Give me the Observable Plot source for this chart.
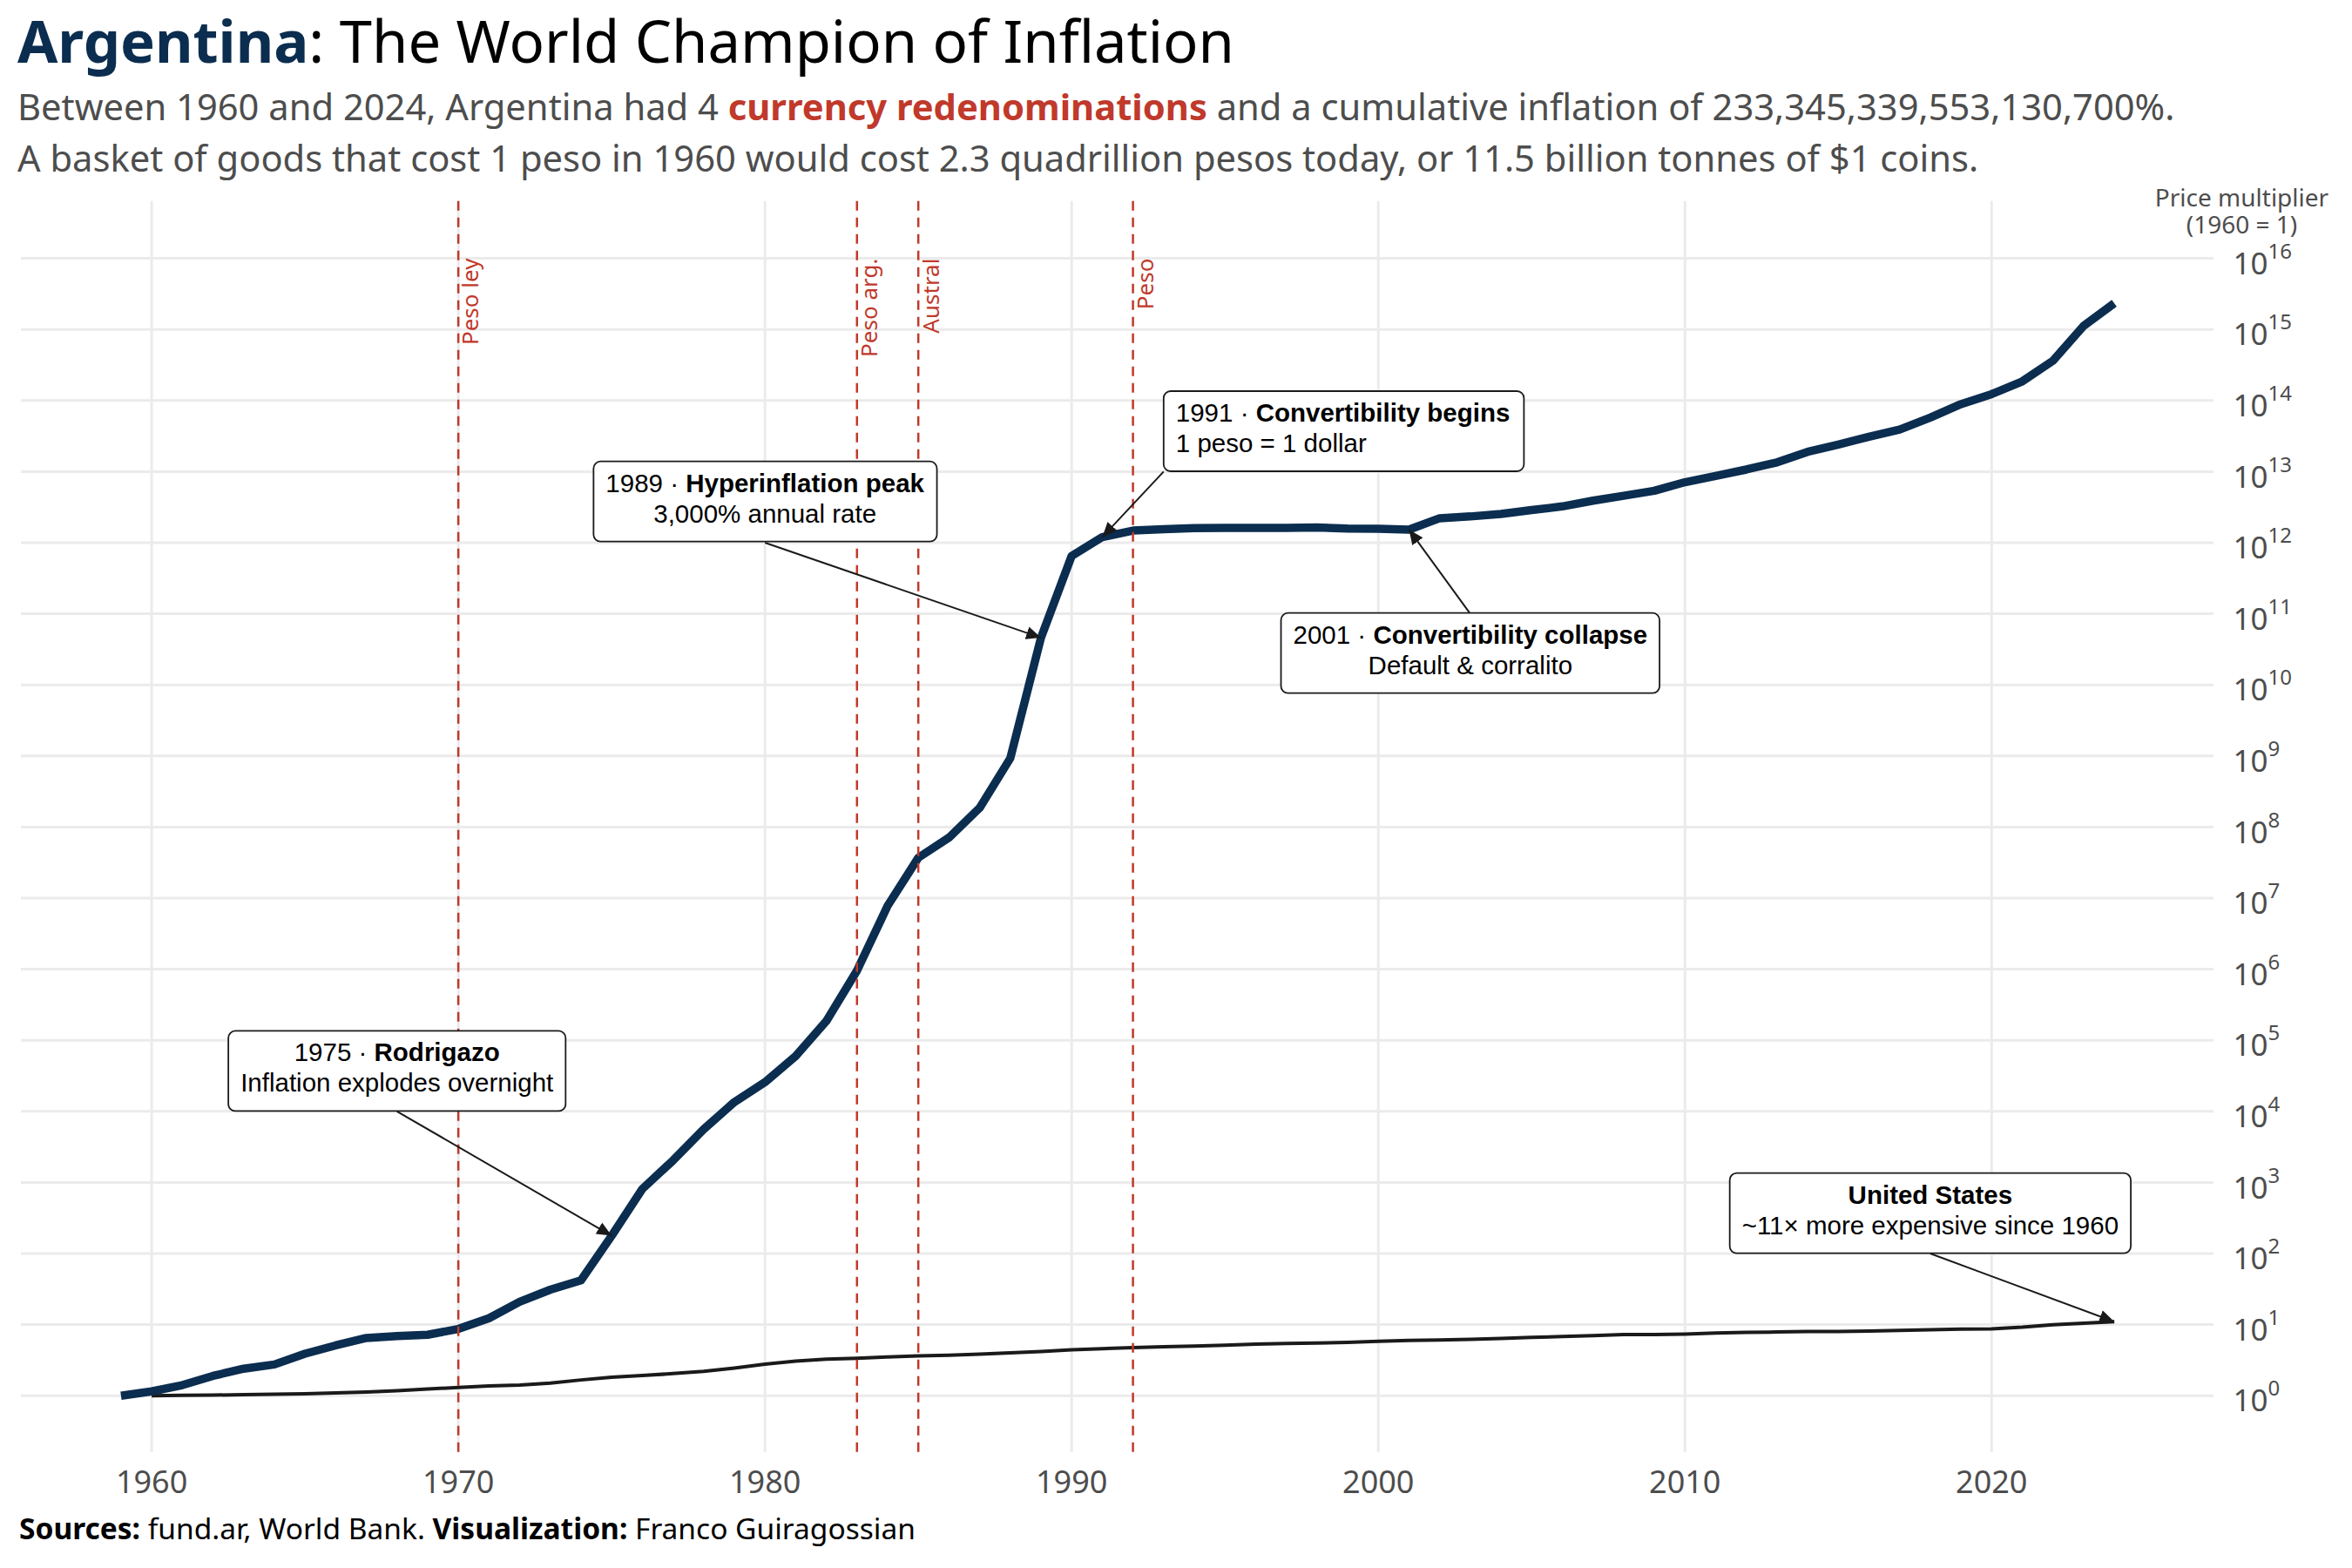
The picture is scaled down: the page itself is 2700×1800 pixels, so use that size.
<!DOCTYPE html>
<html>
<head>
<meta charset="utf-8">
<script src="https://cdn.jsdelivr.net/npm/d3@7"></script>
<script src="https://cdn.jsdelivr.net/npm/@observablehq/plot@0.6"></script>
<style>
  html, body { margin: 0; padding: 0; background: #fff; }
  #wrap { position: relative; width: 2700px; height: 1800px; overflow: hidden; font-family: "Noto Sans", sans-serif; }
  .title { position: absolute; left: 20px; top: 13px; font-size: 67px; line-height: 67px; color: #000; white-space: nowrap; }
  .title b { color: #0b2d4f; font-weight: 700; }
  .subtitle { position: absolute; left: 20px; top: 101px; font-size: 41.7px; line-height: 58.5px; color: #4d4d4d; white-space: nowrap; }
  .subtitle b { color: #c0392b; font-weight: 700; }
  .caption { position: absolute; left: 22px; top: 1738px; font-size: 33.5px; line-height: 33.5px; color: #000; white-space: nowrap; }
  #chart { position: absolute; left: 0; top: 200px; }
</style>
</head>
<body>
<div id="wrap">
  <div class="title"><b>Argentina</b>: The World Champion of Inflation</div>
  <div class="subtitle" style="margin-top:-8px">Between 1960 and 2024, Argentina had 4 <b>currency redenominations</b> and a cumulative inflation of 233,345,339,553,130,700%.<br>A basket of goods that cost 1 peso in 1960 would cost 2.3 quadrillion pesos today, or 11.5 billion tonnes of $1 coins.</div>
  <div id="chart"></div>
  <div class="caption"><b>Sources:</b> fund.ar, World Bank. <b>Visualization:</b> Franco Guiragossian</div>
</div>
<script>
// Consumer price level, 1960 = 1
const argYears = [1959, 1960, 1961, 1962, 1963, 1964, 1965, 1966, 1967, 1968, 1969,
  1970, 1971, 1972, 1973, 1974, 1975, 1976, 1977, 1978, 1979,
  1980, 1981, 1982, 1983, 1984, 1985, 1986, 1987, 1988, 1989,
  1990, 1991, 1992, 1993, 1994, 1995, 1996, 1997, 1998, 1999,
  2000, 2001, 2002, 2003, 2004, 2005, 2006, 2007, 2008, 2009,
  2010, 2011, 2012, 2013, 2014, 2015, 2016, 2017, 2018, 2019,
  2020, 2021, 2022, 2023, 2024];
const argValues = [1, 1.15, 1.41, 1.9, 2.4, 2.75, 3.9, 5.1, 6.5, 6.9, 7.2,
  8.7, 12.3, 21, 31, 42, 178, 810, 2040, 5600, 13500,
  25700, 60000, 186000, 955000, 7.8e6, 3.7e7, 7.1e7, 1.86e8, 9.3e8, 4.6e10,
  6.5e11, 1.2e12, 1.48e12, 1.55e12, 1.6e12, 1.62e12, 1.62e12, 1.62e12, 1.64e12, 1.58e12,
  1.57e12, 1.53e12, 2.21e12, 2.34e12, 2.54e12, 2.88e12, 3.24e12, 3.9e12, 4.57e12, 5.37e12,
  7.1e12, 8.7e12, 1.07e13, 1.35e13, 1.9e13, 2.4e13, 3.1e13, 3.9e13, 5.75e13, 8.9e13,
  1.23e14, 1.86e14, 3.63e14, 1.12e15, 2333453395531308];

const usYears = [1960, 1961, 1962, 1963, 1964, 1965, 1966, 1967, 1968, 1969,
  1970, 1971, 1972, 1973, 1974, 1975, 1976, 1977, 1978, 1979,
  1980, 1981, 1982, 1983, 1984, 1985, 1986, 1987, 1988, 1989,
  1990, 1991, 1992, 1993, 1994, 1995, 1996, 1997, 1998, 1999,
  2000, 2001, 2002, 2003, 2004, 2005, 2006, 2007, 2008, 2009,
  2010, 2011, 2012, 2013, 2014, 2015, 2016, 2017, 2018, 2019,
  2020, 2021, 2022, 2023, 2024];
const usValues = [1, 1.01, 1.02, 1.034, 1.047, 1.064, 1.095, 1.128, 1.176, 1.24,
  1.31, 1.368, 1.412, 1.5, 1.666, 1.818, 1.922, 2.047, 2.203, 2.453,
  2.784, 3.071, 3.26, 3.365, 3.51, 3.635, 3.703, 3.838, 3.997, 4.189,
  4.416, 4.601, 4.74, 4.882, 5.007, 5.149, 5.3, 5.422, 5.507, 5.628,
  5.818, 5.983, 6.078, 6.216, 6.382, 6.598, 6.811, 7.004, 7.274, 7.247,
  7.368, 7.598, 7.757, 7.872, 7.997, 8.007, 8.108, 8.28, 8.483, 8.639,
  8.743, 9.2, 9.95, 10.45, 11.0];

// Currency changes
const redenomYears = [1970, 1983, 1985, 1992];
const redenomNames = ["Peso ley", "Peso arg.", "Austral", "Peso"];

// Axis ticks
const xTicks = [1960, 1970, 1980, 1990, 2000, 2010, 2020];
const yExponents = [0, 1, 2, 3, 4, 5, 6, 7, 8, 9, 10, 11, 12, 13, 14, 15, 16];

// Callouts: label anchor, arrow origin, and the year/series the arrow points at
const noteText = [
  "1975 · **Rodrigazo**\nInflation explodes overnight",
  "1989 · **Hyperinflation peak**\n3,000% annual rate",
  "1991 · **Convertibility begins**\n1 peso = 1 dollar",
  "2001 · **Convertibility collapse**\nDefault & corralito",
  "**United States**\n~11× more expensive since 1960"
];
const noteYear = [1968, 1980, 1993, 2003, 2018];
const noteLevel = [3.7e4, 3.8e12, 3.7e13, 2.8e10, 3.7e2];
const noteAlign = ["middle", "middle", "start", "middle", "middle"];
const arrowFromYear = [1968, 1980, 1993, 2003, 2018];
const arrowFromLevel = [1e4, 1e12, 1e13, 1e11, 1e2];
const arrowToYear = [1975, 1989, 1991, 2001, 2024];
const arrowToSeries = ["Argentina", "Argentina", "Argentina", "Argentina", "United States"];

// Tables
const argentina = argYears.map((year, i) => ({year, value: argValues[i]}));
const unitedStates = usYears.map((year, i) => ({year, value: usValues[i]}));
const series = {"Argentina": argentina, "United States": unitedStates};
const valueAt = (name, year) => series[name].find(d => d.year === year).value;
const redenoms = redenomYears.map((year, i) => ({year, name: redenomNames[i]}));
const yTicks = yExponents.map(e => 10 ** e);
const notes = noteText.map((text, i) => ({
  text, x: noteYear[i], y: noteLevel[i], align: noteAlign[i],
  x1: arrowFromYear[i], y1: arrowFromLevel[i],
  x2: arrowToYear[i], y2: valueAt(arrowToSeries[i], arrowToYear[i])
}));

const ink = "#1a1a1a";
const navy = "#0b2d4f";
const red = "#c0392b";
const grey = "#4d4d4d";

const noteStyle = {
  x: "x", y: "y", text: "text",
  fontFamily: "Liberation Sans", fontSize: 29.5, lineHeight: 1.19,
  lineAnchor: "top", dy: -36, fill: "#000"
};

const svg = Plot.plot({
  width: 2700,
  height: 1530,
  marginLeft: 24,
  marginRight: 159,
  marginTop: 30.8,
  marginBottom: 63,
  style: {fontFamily: "Noto Sans", background: "transparent", overflow: "visible"},
  x: {domain: [1955.75, 2027.25]},
  y: {type: "log", domain: [0.1585, 6.31e16]},
  marks: [
    Plot.gridY(yTicks, {stroke: "#ebebeb", strokeOpacity: 1, strokeWidth: 3}),
    Plot.gridX(xTicks, {stroke: "#ebebeb", strokeOpacity: 1, strokeWidth: 3}),
    Plot.line(unitedStates, {x: "year", y: "value", stroke: ink, strokeWidth: 4, strokeLinecap: "butt"}),
    Plot.line(argentina, {x: "year", y: "value", stroke: navy, strokeWidth: 9.5, strokeLinecap: "butt"}),
    Plot.ruleX(redenoms, {x: "year", stroke: red, strokeWidth: 2.5, strokeDasharray: "11,8"}),
    Plot.text(redenoms, {
      x: "year", y: yTicks[yTicks.length - 1], text: "name",
      rotate: -90, textAnchor: "end", dx: 15,
      fontSize: 26, fill: red
    }),
    Plot.link(notes, {x1: "x1", y1: "y1", x2: "x2", y2: "y2", stroke: ink, strokeWidth: 2, markerEnd: "arrow"}),
    Plot.text(notes.filter(d => d.align === "middle"), {...noteStyle, textAnchor: "middle"}),
    Plot.text(notes.filter(d => d.align === "start"), {...noteStyle, textAnchor: "start", dx: 14}),
    Plot.text(["Price multiplier\n(1960 = 1)"], {
      text: d => d, frameAnchor: "top-right", dx: 32, dy: 36.2,
      lineAnchor: "bottom", lineHeight: 1.107, textAnchor: "middle",
      fontSize: 28, fill: grey
    }),
    Plot.axisX(xTicks, {tickSize: 0, tickPadding: 21, fontSize: 36, color: grey, label: null, tickFormat: d => String(d)}),
    Plot.axisY(yTicks, {
      anchor: "right", tickSize: 0, tickPadding: 22, dy: 7,
      fontSize: 35, color: grey, label: null,
      tickFormat: d => "10^" + Math.round(Math.log10(d))
    })
  ]
});

document.getElementById("chart").append(svg);

const NS = "http://www.w3.org/2000/svg";

// Powers of ten with raised exponents
svg.querySelectorAll("text").forEach(t => {
  const m = /^10\^(-?\d+)$/.exec(t.textContent);
  if (!m) return;
  t.textContent = "10";
  const sup = document.createElementNS(NS, "tspan");
  sup.setAttribute("dy", "-18");
  sup.setAttribute("font-size", "24");
  sup.textContent = m[1];
  t.appendChild(sup);
});

// Bold runs inside callout text
const calloutTexts = new Set();
svg.querySelectorAll("text, tspan").forEach(node => {
  if (node.children.length || !node.textContent.includes("**")) return;
  const parts = node.textContent.split("**");
  node.textContent = "";
  parts.forEach((part, i) => {
    if (!part) return;
    if (i % 2) {
      const b = document.createElementNS(NS, "tspan");
      b.setAttribute("font-weight", "bold");
      b.textContent = part;
      node.appendChild(b);
    } else {
      node.appendChild(document.createTextNode(part));
    }
  });
  calloutTexts.add(node.closest("text"));
});

// Rounded label boxes behind callouts
calloutTexts.forEach(t => {
  const bb = t.getBBox();
  const start = getComputedStyle(t).textAnchor === "start";
  const padL = 14, padR = start ? 16 : 14;
  const rect = document.createElementNS(NS, "rect");
  rect.setAttribute("x", bb.x - padL);
  rect.setAttribute("y", -10);
  rect.setAttribute("width", bb.width + padL + padR);
  rect.setAttribute("height", 92);
  rect.setAttribute("rx", 8);
  rect.setAttribute("fill", "#fff");
  rect.setAttribute("stroke", ink);
  rect.setAttribute("stroke-width", 1.8);
  const tr = t.getAttribute("transform");
  if (tr) rect.setAttribute("transform", tr);
  t.parentNode.insertBefore(rect, t);
});

// Closed triangular arrowheads
svg.querySelectorAll("marker").forEach(mk => {
  mk.setAttribute("viewBox", "-17 -8 18 16");
  mk.setAttribute("markerWidth", "18");
  mk.setAttribute("markerHeight", "16");
  mk.setAttribute("markerUnits", "userSpaceOnUse");
  mk.setAttribute("refX", "0");
  mk.setAttribute("refY", "0");
  mk.setAttribute("orient", "auto");
  mk.removeAttribute("stroke");
  mk.setAttribute("fill", ink);
  while (mk.firstChild) mk.removeChild(mk.firstChild);
  const p = document.createElementNS(NS, "path");
  p.setAttribute("d", "M-17,-7.5L0,0L-17,7.5Z");
  p.setAttribute("fill", ink);
  p.setAttribute("stroke", "none");
  mk.appendChild(p);
});
</script>
</body>
</html>
